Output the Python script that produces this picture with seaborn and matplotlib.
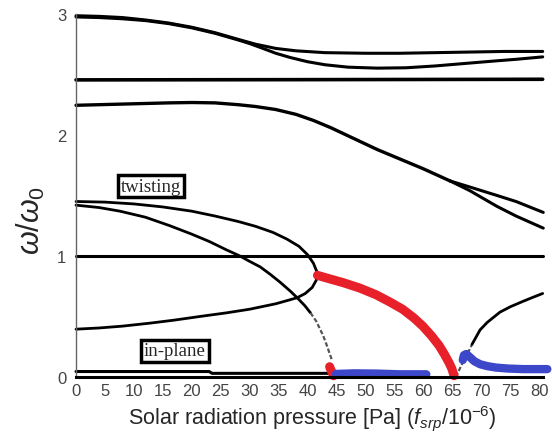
import matplotlib
matplotlib.use("Agg")
import matplotlib.pyplot as plt
import seaborn as sns

# top pair of modes (they separate near 28)
top_a_x = [0, 4, 8, 12, 16, 20, 24, 28, 31, 34.5, 38, 43, 50, 56, 62, 68, 74, 80.6]
top_a_y = [2.985, 2.98, 2.97, 2.95, 2.925, 2.89, 2.845, 2.79, 2.75, 2.715, 2.695, 2.68,
           2.675, 2.675, 2.68, 2.685, 2.69, 2.69]
top_b_x = [0, 4, 8, 12, 16, 20, 24, 28, 30, 32, 34.5, 37, 40, 43, 47, 52, 57, 62, 67,
           72, 76, 80.6]
top_b_y = [2.975, 2.97, 2.96, 2.945, 2.92, 2.885, 2.84, 2.785, 2.755, 2.72, 2.675, 2.64,
           2.605, 2.58, 2.56, 2.552, 2.555, 2.57, 2.59, 2.61, 2.625, 2.645]

flat_x = [0, 40, 80.6]
flat_y = [2.455, 2.457, 2.46]

mid_x = [0, 4, 8, 12, 16, 20, 24, 28, 31, 34.5, 38, 41, 44, 48, 52, 56, 60, 64.6]
mid_y = [2.245, 2.25, 2.255, 2.26, 2.265, 2.268, 2.265, 2.25, 2.235, 2.21, 2.17, 2.12,
         2.06, 1.97, 1.88, 1.80, 1.72, 1.62]
mid_hi_x = [64.6, 68, 72.7, 76, 80.7]
mid_hi_y = [1.62, 1.57, 1.50, 1.45, 1.36]
mid_lo_x = [64.6, 68, 72.7, 76, 80.7]
mid_lo_y = [1.62, 1.54, 1.41, 1.33, 1.23]

one_x = [0, 80.6]
one_y = [1.0, 1.0]

# twisting branch that folds back near 42
fold_x = [0, 5, 10, 15, 20, 24, 28, 31, 34, 36.4, 38.5, 40, 41, 41.6, 41.5, 40.8, 39.6,
          38.2, 36, 34.5, 32, 30, 26, 21.4, 17, 12.8, 8, 4, 0]
fold_y = [1.45, 1.445, 1.43, 1.405, 1.37, 1.33, 1.285, 1.245, 1.195, 1.14, 1.08, 1.01,
          0.94, 0.87, 0.80, 0.74, 0.69, 0.655, 0.625, 0.605, 0.58, 0.56, 0.53, 0.50,
          0.47, 0.445, 0.42, 0.405, 0.395]

dive_x = [0, 4, 7.6, 12, 16.2, 20, 23, 26, 28.3, 30, 31.8, 33.5, 35.2, 37, 38.3, 39.5, 40.5]
dive_y = [1.42, 1.40, 1.37, 1.32, 1.25, 1.18, 1.12, 1.05, 1.0, 0.955, 0.91, 0.85, 0.785,
          0.71, 0.65, 0.59, 0.53]
dive_tail_x = [40.5, 41.5, 42.2, 42.7, 43.4, 43.9, 44.2]
dive_tail_y = [0.53, 0.46, 0.39, 0.34, 0.25, 0.18, 0.14]

rise_head_x = [65.6, 66.2, 67, 67.8, 68.4]
rise_head_y = [0.0, 0.06, 0.14, 0.21, 0.27]
rise_x = [68.4, 69.8, 71, 73.2, 75, 77.2, 79, 80.6]
rise_y = [0.27, 0.39, 0.45, 0.535, 0.58, 0.625, 0.66, 0.69]

inplane_x = [0, 23, 23.5, 44]
inplane_y = [0.045, 0.045, 0.03, 0.03]

red_x = [41.7, 43.5, 46.1, 49, 51.8, 54.2, 56.4, 58.3, 59.9, 61.4, 62.7, 63.6, 64.4, 64.9, 65.3]
red_y = [0.84, 0.815, 0.78, 0.735, 0.68, 0.62, 0.56, 0.49, 0.42, 0.34, 0.26, 0.19, 0.12,
         0.07, 0.01]
red_dot_x = [43.8, 44.1, 44.5]
red_dot_y = [0.085, 0.05, 0.01]

blue_l_x = [44.9, 48, 52, 56, 60.5]
blue_l_y = [0.025, 0.03, 0.028, 0.022, 0.022]
blue_r_x = [66.8, 67.0, 67.4, 68, 68.8, 69.8, 71, 72.5, 74.5, 77.2, 81.4]
blue_r_y = [0.14, 0.18, 0.19, 0.165, 0.13, 0.105, 0.09, 0.078, 0.07, 0.065, 0.065]

xticks = list(range(0, 81, 5))
yticks = [0, 1, 2, 3]

sns.set_style("white")
plt.rcParams['font.family'] = ['Liberation Sans Narrow', 'Liberation Sans', 'DejaVu Sans']
plt.rcParams['mathtext.fontset'] = 'custom'
plt.rcParams['mathtext.rm'] = 'Liberation Sans'
plt.rcParams['mathtext.it'] = 'Liberation Sans:italic'

fig = plt.figure(figsize=(5.52, 4.39), dpi=100)
ax = fig.add_axes([0.1377, 0.139, 0.858, 0.827])


def line(x, y, c="black", lw=2.2, **kw):
    sns.lineplot(x=x, y=y, sort=False, estimator=None, color=c, lw=lw, ax=ax,
                 clip_on=False, **kw)


line(top_a_x, top_a_y)
line(top_b_x, top_b_y)
line(flat_x, flat_y, lw=2.6)
line(mid_x, mid_y, lw=2.4)
line(mid_hi_x, mid_hi_y)
line(mid_lo_x, mid_lo_y)
line(one_x, one_y)
line(fold_x, fold_y, lw=2.0)
line(dive_x, dive_y, lw=2.0)
line(dive_tail_x, dive_tail_y, c="#555555", lw=1.6, ls=(0, (2, 1)))
line(rise_head_x, rise_head_y, c="#555555", lw=1.6, ls=(0, (2, 1)))
line(rise_x, rise_y, lw=2.0)
line(inplane_x, inplane_y, lw=2.2)
line(red_x, red_y, c="#e8202a", lw=6.5, solid_capstyle="round")
line(red_dot_x, red_dot_y, c="#e8202a", lw=6.5, solid_capstyle="round")
line(blue_l_x, blue_l_y, c="#3d47c9", lw=6.0, solid_capstyle="round")
line(blue_r_x, blue_r_y, c="#3d47c9", lw=6.0, solid_capstyle="round")

ax.set_xlim(0, 81.8)
ax.set_ylim(0, 3)
ax.set_xticks(xticks)
ax.set_yticks(yticks)
for s in ["top", "right"]:
    ax.spines[s].set_visible(False)
ax.spines["left"].set_color("#666666")
ax.spines["left"].set_linewidth(1.0)
ax.spines["bottom"].set_color("black")
ax.spines["bottom"].set_linewidth(2.2)
ax.spines["bottom"].set_bounds(0, 80.7)
ax.tick_params(axis="x", direction="in", length=5, width=1.2, color="black",
               labelsize=12, labelcolor="#444444", pad=4)
ax.tick_params(axis="y", direction="out", length=5, width=1.0, color="#666666",
               labelsize=12, labelcolor="#444444", pad=2)

ax.set_xlabel("Solar radiation pressure [Pa] ($f_{srp}/\\mathit{10}^{\\mathit{-6}}$)",
              fontsize=15.5, family="Liberation Sans", labelpad=4)
ax.set_ylabel(r"$\omega/\omega_0$", fontsize=22)
ax.yaxis.set_label_coords(-0.062, 0.435)

box = dict(boxstyle="square,pad=0.15", fc="white", ec="black", lw=2.5)
ax.text(12.95, 1.578, "twisting", family="Liberation Serif", fontsize=13.5,
        ha="center", va="center", bbox=box)
ax.text(17.1, 0.215, "in-plane", family="Liberation Serif", fontsize=13.5,
        ha="center", va="center", bbox=box)

fig.savefig("out.png", dpi=100)
